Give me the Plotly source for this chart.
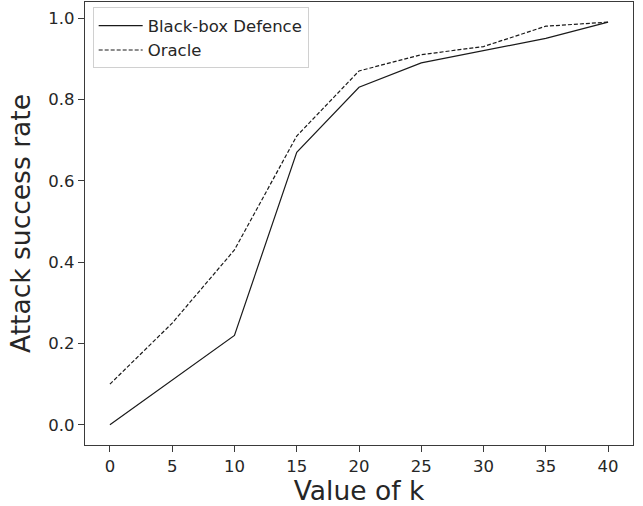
import plotly.graph_objects as go

k_values = [0, 5, 10, 15, 20, 25, 30, 35, 40]
blackbox_defence = [0.00, 0.11, 0.22, 0.67, 0.83, 0.89, 0.92, 0.95, 0.99]
oracle = [0.10, 0.25, 0.43, 0.71, 0.87, 0.91, 0.93, 0.98, 0.99]
x_ticks = [0, 5, 10, 15, 20, 25, 30, 35, 40]
y_ticks = [0.0, 0.2, 0.4, 0.6, 0.8, 1.0]

FONT = "DejaVu Sans"
TXT = "#262626"
SPINE = "#3a3a3a"

fig = go.Figure()
fig.add_trace(go.Scatter(x=k_values, y=blackbox_defence, mode="lines",
                         name="Black-box Defence",
                         line=dict(color="#1a1a1a", width=1.2)))
fig.add_trace(go.Scatter(x=k_values, y=oracle, mode="lines",
                         name="Oracle",
                         line=dict(color="#1a1a1a", width=1.2, dash="4px,2px")))

fig.update_layout(
    width=643, height=506,
    margin=dict(l=85, r=10, t=2, b=61),
    paper_bgcolor="white", plot_bgcolor="white",
    font=dict(family=FONT, size=16.5, color=TXT),
    showlegend=True,
    legend=dict(x=0.014, y=0.988, xanchor="left", yanchor="top",
                bgcolor="rgba(255,255,255,0.8)", bordercolor="#d0d0d0",
                borderwidth=1, font=dict(family=FONT, size=16.5, color=TXT),
                tracegroupgap=0, itemwidth=44),
)
fig.update_xaxes(range=[-2, 42], tickvals=x_ticks, ticktext=[str(v) for v in x_ticks],
                 showgrid=False, zeroline=False,
                 showline=True, mirror=True, linecolor=SPINE, linewidth=1.2,
                 ticks="outside", ticklen=6, tickwidth=1.2, tickcolor=SPINE,
                 tickfont=dict(family=FONT, size=16.5, color=TXT),
                 title=dict(text="Value of k", font=dict(family=FONT, size=26.5, color=TXT),
                            standoff=9))
fig.update_yaxes(range=[-0.0495, 1.0395], tickvals=y_ticks,
                 ticktext=[f"{v:.1f}" for v in y_ticks],
                 showgrid=False, zeroline=False,
                 showline=True, mirror=True, linecolor=SPINE, linewidth=1.2,
                 ticks="outside", ticklen=6, tickwidth=1.2, tickcolor=SPINE,
                 tickfont=dict(family=FONT, size=16.5, color=TXT),
                 title=dict(text="Attack success rate", font=dict(family=FONT, size=26.5, color=TXT),
                            standoff=10))

fig.write_html("out.html")
